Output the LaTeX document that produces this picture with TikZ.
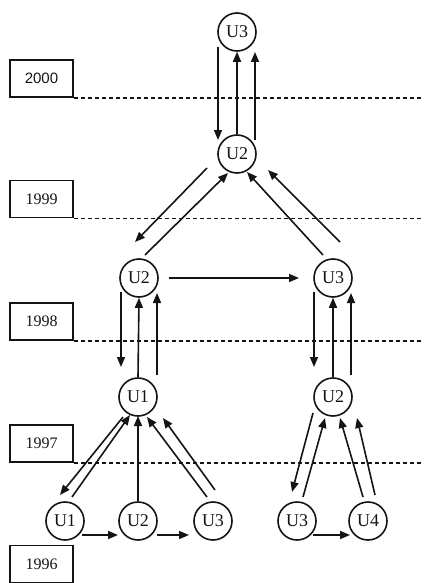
\documentclass[tikz,border=0pt]{standalone}
\usepackage{fontspec}
\setmainfont{Liberation Serif}
\setsansfont{Liberation Sans}
\usepackage{tikz}
\usetikzlibrary{arrows.meta}

\begin{document}
\begin{tikzpicture}[x=1pt,y=-1pt,color=black!92,
  unit/.style={draw,circle,minimum size=38pt,inner sep=0pt,line width=1.6pt,font=\fontsize{18}{20}\selectfont},
  year/.style={draw,rectangle,minimum width=63pt,minimum height=37pt,inner sep=0pt,line width=1.8pt,font=\fontsize{16}{18}\selectfont},
  link/.style={line width=1.6pt,-{Triangle[length=10pt,width=8pt]}},
  grid/.style={dash pattern=on 4.5pt off 2.5pt,line width=1.7pt}]
\useasboundingbox (0,0) rectangle (423,583);
\coordinate (edge) at (423,0);

% year boxes and dashed separators
\node[year] (y2000) at (41.5,78.5) {\sffamily\fontsize{15}{17}\selectfont 2000};
\node[year] (y1999) at (41.5,199) {1999};
\node[year] (y1998) at (41.5,321.5) {1998};
\node[year] (y1997) at (41.5,443.5) {1997};
\node[year] (y1996) at (41.5,564) {1996};
\draw[grid] (y2000.south east) -- (y2000.south east -| edge);
\draw[grid] (y1999.south east) -- (y1999.south east -| edge);
\draw[grid] (y1998.south east) -- (y1998.south east -| edge);
\draw[grid] (y1997.south east) -- (y1997.south east -| edge);
\draw[grid] (y1996.south east) -- (y1996.south east -| edge);

% units
\node[unit] (t3) at (237,32) {U3};
\node[unit] (t2) at (237,154) {U2};
\node[unit] (m2) at (139,278) {U2};
\node[unit] (m3) at (333,278) {U3};
\node[unit] (l1) at (138,397) {U1};
\node[unit] (r2) at (333,397) {U2};
\node[unit] (b1) at (65,521) {U1};
\node[unit] (b2) at (138,521) {U2};
\node[unit] (b3) at (213,521) {U3};
\node[unit] (b4) at (297,521) {U3};
\node[unit] (b5) at (368,521) {U4};

% 2000 - 1999
\draw[link] ([shift={(-19,15)}]t3.center) -- ([shift={(-19,-14)}]t2.center);
\draw[link] (t2.north) -- (t3.south);
\draw[link] ([shift={(18,-14)}]t2.center) -- ([shift={(18,20)}]t3.center);

% 1999 - 1998
\draw[link] ([shift={(-30,14)}]t2.center) -- ([shift={(-4,-36)}]m2.center);
\draw[link] ([shift={(6,-23)}]m2.center) -- ([shift={(-9,19)}]t2.center);
\draw[link] ([shift={(-10,-23)}]m3.center) -- ([shift={(10,18)}]t2.center);
\draw[link] ([shift={(7,-36)}]m3.center) -- ([shift={(31,16)}]t2.center);
\draw[link] ([shift={(30,0)}]m2.center) -- ([shift={(-34,0)}]m3.center);

% 1998 - 1997
\draw[link] ([shift={(-18,14)}]m2.center) -- ([shift={(-17,-30)}]l1.center);
\draw[link] (l1.north) -- (m2.south);
\draw[link] ([shift={(19,-22)}]l1.center) -- ([shift={(18,15)}]m2.center);
\draw[link] ([shift={(-19,14)}]m3.center) -- ([shift={(-19,-30)}]r2.center);
\draw[link] (r2.north) -- (m3.south);
\draw[link] ([shift={(18,-22)}]r2.center) -- ([shift={(18,15)}]m3.center);

% 1997 - 1996
\draw[link] ([shift={(-15,20)}]l1.center) -- ([shift={(-5,-26)}]b1.center);
\draw[link] ([shift={(7,-24)}]b1.center) -- ([shift={(-8,18)}]l1.center);
\draw[link] (b2.north) -- ([shift={(0,19)}]l1.center);
\draw[link] ([shift={(-6,-24)}]b3.center) -- ([shift={(9,20)}]l1.center);
\draw[link] ([shift={(2,-31)}]b3.center) -- ([shift={(25,21)}]l1.center);
\draw[link] ([shift={(-20,16)}]r2.center) -- ([shift={(-5,-29)}]b4.center);
\draw[link] ([shift={(6,-24)}]b4.center) -- ([shift={(-8,21)}]r2.center);
\draw[link] ([shift={(-5,-24)}]b5.center) -- ([shift={(7,21)}]r2.center);
\draw[link] ([shift={(7,-26)}]b5.center) -- ([shift={(24,21)}]r2.center);

% 1996
\draw[link] ([shift={(17,14)}]b1.center) -- ([shift={(-20,14)}]b2.center);
\draw[link] ([shift={(19,14)}]b2.center) -- ([shift={(-24,14)}]b3.center);
\draw[link] ([shift={(16,14)}]b4.center) -- ([shift={(-18,14)}]b5.center);
\end{tikzpicture}
\end{document}
